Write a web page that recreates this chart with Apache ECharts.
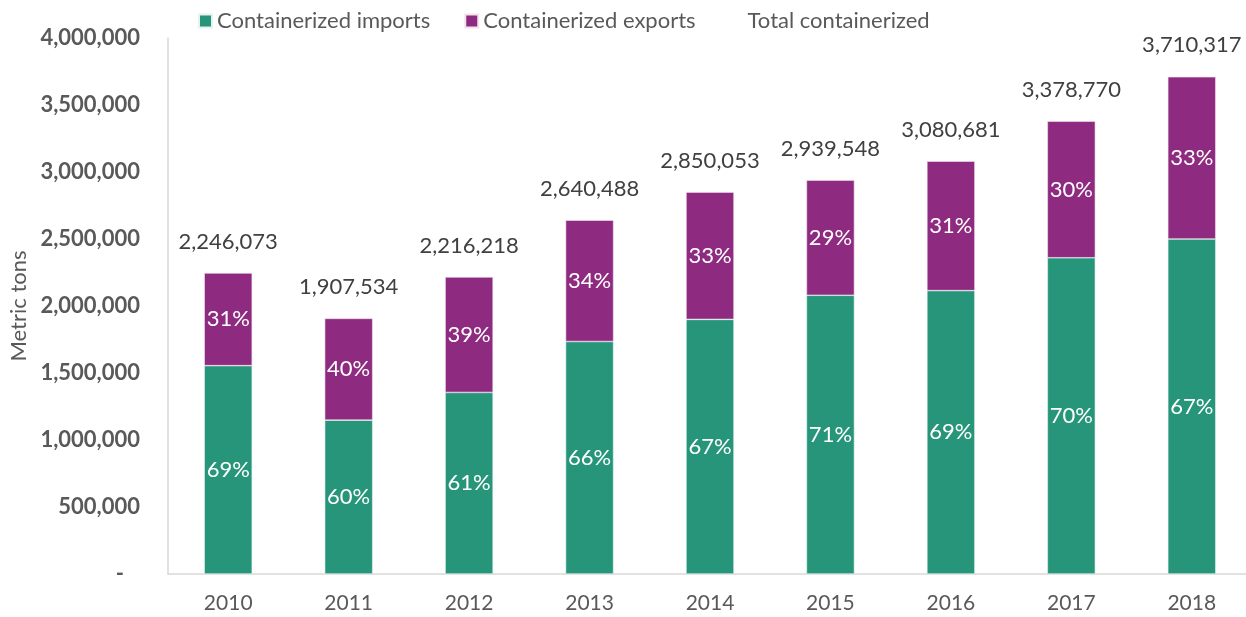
<!DOCTYPE html>
<html>
<head>
<meta charset="utf-8">
<script src="https://cdn.jsdelivr.net/npm/echarts@6/dist/echarts.min.js"></script>
<style>
  html, body { margin: 0; padding: 0; background: #fff; }
  #chart { width: 1246px; height: 617px; }
</style>
</head>
<body>
<div id="chart"></div>
<script>
// Containerized cargo, metric tons per year
const years = ['2010', '2011', '2012', '2013', '2014', '2015', '2016', '2017', '2018'];
const totals = [2246073, 1907534, 2216218, 2640488, 2850053, 2939548, 3080681, 3378770, 3710317];
const imports = [1555000, 1148000, 1355000, 1735000, 1900000, 2080000, 2115000, 2360000, 2500000];
const exportsT = totals.map((t, i) => t - imports[i]);
const yTicks = { min: 0, max: 4000000, interval: 500000 };

const FONT = 'Lato, "Open Sans", sans-serif';
const GREEN = '#26957A';
const PURPLE = '#8E2A7F';
const GREY = '#595959';

const fmtNum = v => v.toLocaleString('en-US');
const pct = (part, i) => Math.round(part / totals[i] * 100) + '%';

const chart = echarts.init(document.getElementById('chart'), null, { renderer: 'canvas' });

const shareLabel = arr => ({
  show: true,
  position: 'inside',
  color: '#fff',
  fontFamily: FONT,
  fontSize: 22,
  formatter: p => pct(arr[p.dataIndex], p.dataIndex)
});

chart.setOption({
  animation: false,
  textStyle: { fontFamily: FONT },
  legend: {
    top: 5,
    left: 193,
    itemWidth: 13,
    itemHeight: 13,
    itemGap: 34,
    textStyle: { fontFamily: FONT, fontSize: 22, color: GREY },
    data: [
      { name: 'Containerized imports', icon: 'rect' },
      { name: 'Containerized exports', icon: 'rect' },
      { name: 'Total containerized', icon: 'rect', itemStyle: { color: 'rgba(0,0,0,0)' } }
    ]
  },
  grid: { left: 168, right: -6, top: 38, bottom: 43, containLabel: false, outerBoundsMode: 'none' },
  xAxis: {
    type: 'category',
    data: years,
    axisLine: { lineStyle: { color: '#d9d9d9', width: 1.5 } },
    axisTick: { show: false },
    axisLabel: { color: GREY, fontSize: 21, fontFamily: FONT, margin: 19 }
  },
  yAxis: {
    type: 'value',
    min: yTicks.min,
    max: yTicks.max,
    interval: yTicks.interval,
    name: 'Metric tons',
    nameLocation: 'middle',
    nameGap: 136,
    nameTextStyle: { color: GREY, fontSize: 22, fontFamily: FONT },
    axisLine: { show: true, lineStyle: { color: '#d9d9d9', width: 1.5 } },
    axisTick: { show: false },
    splitLine: { show: false },
    axisLabel: {
      color: GREY,
      fontSize: 22,
      fontWeight: 'bold',
      fontFamily: FONT,
      margin: 28,
      formatter: v => (v === 0 ? '-   ' : fmtNum(v))
    }
  },
  series: [
    {
      name: 'Containerized imports',
      type: 'bar',
      stack: 'cargo',
      barWidth: 48,
      data: imports,
      itemStyle: { color: GREEN, borderColor: '#e6f2ee', borderWidth: 0.6 },
      label: shareLabel(imports)
    },
    {
      name: 'Containerized exports',
      type: 'bar',
      stack: 'cargo',
      barWidth: 48,
      data: exportsT,
      itemStyle: { color: PURPLE, borderColor: '#f0e3ee', borderWidth: 0.6 },
      label: shareLabel(exportsT)
    },
    {
      name: 'Total containerized',
      type: 'line',
      data: totals,
      symbol: 'circle',
      showSymbol: true,
      symbolSize: 1,
      lineStyle: { opacity: 0 },
      itemStyle: { color: 'rgba(0,0,0,0)' },
      label: {
        show: true,
        position: 'top',
        distance: 20,
        color: '#404040',
        fontSize: 22,
        fontFamily: FONT,
        formatter: p => fmtNum(p.value)
      },
      z: 5
    }
  ]
});
</script>
</body>
</html>
